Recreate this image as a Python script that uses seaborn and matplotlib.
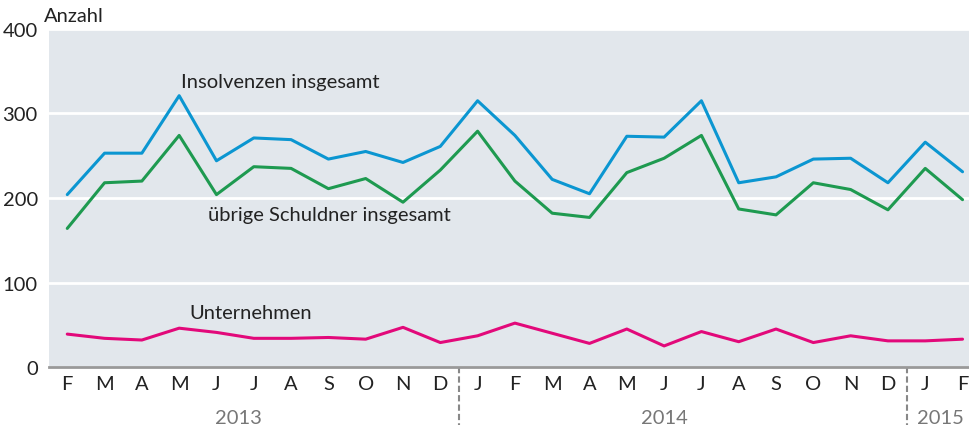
import numpy as np
import pandas as pd
import matplotlib.pyplot as plt
import seaborn as sns

months = ["F", "M", "A", "M", "J", "J", "A", "S", "O", "N", "D",
          "J", "F", "M", "A", "M", "J", "J", "A", "S", "O", "N", "D",
          "J", "F"]
years = ["2013", "2014", "2015"]

insolvenzen = [204, 253, 253, 321, 244, 271, 269, 246, 255, 242, 261,
               315, 274, 222, 205, 273, 272, 315, 218, 225, 246, 247, 218,
               266, 231]
uebrige = [164, 218, 220, 274, 204, 237, 235, 211, 223, 195, 233,
           279, 220, 182, 177, 230, 247, 274, 187, 180, 218, 210, 186,
           235, 198]
unternehmen = [39, 34, 32, 46, 41, 34, 34, 35, 33, 47, 29,
               37, 52, 40, 28, 45, 25, 42, 30, 45, 29, 37, 31,
               31, 33]

serien = ["Insolvenzen insgesamt", "übrige Schuldner insgesamt", "Unternehmen"]
farben = {"Insolvenzen insgesamt": "#0b96d1",
          "übrige Schuldner insgesamt": "#1e9a50",
          "Unternehmen": "#e2097a"}

df = pd.DataFrame({
    "x": list(range(len(months))) * 3,
    "wert": insolvenzen + uebrige + unternehmen,
    "serie": np.repeat(serien, len(months)),
})

sns.set_style("white", {"axes.facecolor": "#e2e7ec"})
plt.rcParams['font.family'] = ['Lato', 'DejaVu Sans']

fig = plt.figure(figsize=(9.7, 4.27), dpi=100)
ax = fig.add_axes([0.0505, 0.138, 0.9495, 0.792])

ax.grid(axis="y", color="white", linewidth=2)
ax.set_axisbelow(True)
sns.lineplot(data=df, x="x", y="wert", hue="serie", palette=farben,
             linewidth=2.2, legend=False, ax=ax)

ax.set_xlim(-0.49, 24.2)
ax.set_ylim(0, 400)
ax.set_yticks([0, 100, 200, 300, 400])
ax.tick_params(axis="y", length=0, labelsize=14.5, pad=8, labelcolor="#222222")
ax.set_xticks(range(len(months)))
ax.set_xticklabels(months)
ax.tick_params(axis="x", length=0, labelsize=14.5, pad=6, labelcolor="#222222")
ax.set_xlabel("")
ax.set_ylabel("")
for s in ["top", "right", "left"]:
    ax.spines[s].set_visible(False)
ax.spines["bottom"].set_color("#999999")
ax.spines["bottom"].set_linewidth(2)

ax.text(-0.005, 1.04, "Anzahl", transform=ax.transAxes, fontsize=14.5,
        color="#222222", va="center", ha="left")

ax.text(3.06, 338, "Insolvenzen insgesamt", fontsize=14.5, color="#222222", va="center")
ax.text(3.78, 180, "übrige Schuldner insgesamt", fontsize=14.5, color="#222222", va="center")
ax.text(3.27, 64, "Unternehmen", fontsize=14.5, color="#222222", va="center")

# Jahrestrenner und Jahreszahlen
trans = ax.get_xaxis_transform()
for xs in [10.5, 22.5]:
    ax.plot([xs, xs], [0, -0.17], transform=trans, color="#888888",
            linestyle=(0, (3, 1.5)), linewidth=1.5, clip_on=False)
for label, xc in zip(years, [4.6, 16.0, 23.4]):
    ax.text(xc, -0.15, label, transform=trans, fontsize=14.5, color="#777777",
            ha="center", va="center")

fig.savefig("out.png", dpi=100)
